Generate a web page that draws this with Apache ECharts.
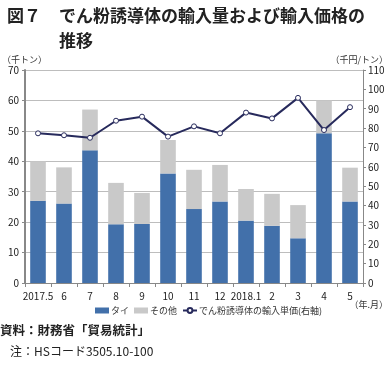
<!DOCTYPE html>
<html><head><meta charset="utf-8">
<script src="https://cdn.jsdelivr.net/npm/echarts@6/dist/echarts.min.js"></script>
<style>html,body{margin:0;padding:0;background:#fff}#c{width:388px;height:365px}</style>
</head><body><div id="c"></div>
<script>
const categories = ['2017.5','6','7','8','9','10','11','12','2018.1','2','3','4','5'];
const thai = [27.0,26.1,43.6,19.3,19.4,36.0,24.3,26.8,20.5,18.8,14.7,49.2,26.8];
const total = [40.0,38.0,57.0,32.9,29.6,47.0,37.2,38.8,30.9,29.3,25.6,60.0,37.9];
const others = total.map((t,i)=>+(t-thai[i]).toFixed(1));
const price = [77.3,76.3,75.0,83.8,85.9,75.6,80.9,77.3,88.0,85.0,95.6,79.0,90.8];
const leftTicks = {min:0,max:70,interval:10};
const rightTicks = {min:0,max:110,interval:10};

const FONT = '"Noto Sans CJK JP", sans-serif';
const chart = echarts.init(document.getElementById('c'), null, {renderer:'canvas'});
chart.setOption({
  animation:false,
  textStyle:{fontFamily:FONT},
  title:[
    {text:'図７', left:2, top:-2, textStyle:{fontFamily:FONT,fontSize:17,fontWeight:'bold',color:'#222',lineHeight:25}},
    {text:'でん粉誘導体の輸入量および輸入価格の\n推移', left:54, top:-2, textStyle:{fontFamily:FONT,fontSize:17,fontWeight:'bold',color:'#222',lineHeight:25}}
  ],
  graphic:[
    {type:'text', left:2, top:55, style:{text:'（千トン）', font:'9px '+FONT, fill:'#333'}},
    {type:'text', right:0, top:55, style:{text:'（千円/トン）', font:'9px '+FONT, fill:'#333'}},
    {type:'text', right:0, top:300, style:{text:'（年.月）', font:'9px '+FONT, fill:'#333'}},
    {type:'text', left:0, top:324, style:{text:'資料：財務省「貿易統計」', font:'bold 12.5px '+FONT, fill:'#222'}},
    {type:'text', left:10, top:345, style:{text:'注：HSコード3505.10-100', font:'12px '+FONT, fill:'#222'}}
  ],
  legend:{
    left:90, top:301, itemWidth:14, itemHeight:6, itemGap:5,
    textStyle:{fontFamily:FONT,fontSize:9,color:'#333',padding:[0,0,0,-3]},
    data:[{name:'タイ',icon:'rect'},{name:'その他',icon:'rect'},{name:'でん粉誘導体の輸入単価(右軸)'}]
  },
  grid:{left:25,right:25,top:70,bottom:82},
  xAxis:{
    type:'category', data:categories, boundaryGap:true,
    axisLine:{lineStyle:{color:'#888',width:1}},
    axisTick:{show:true,length:4,lineStyle:{color:'#888'}},
    axisLabel:{interval:0,fontSize:10,color:'#222',margin:8,fontFamily:FONT}
  },
  yAxis:[
    {type:'value', min:leftTicks.min, max:leftTicks.max, interval:leftTicks.interval,
     axisLine:{show:true,lineStyle:{color:'#888',width:2}},
     axisTick:{show:true,length:3,lineStyle:{color:'#888'}},
     splitLine:{lineStyle:{color:'#bdbdbd',width:1}},
     axisLabel:{fontSize:10,color:'#222',margin:6,fontFamily:FONT}},
    {type:'value', min:rightTicks.min, max:rightTicks.max, interval:rightTicks.interval,
     axisLine:{show:true,lineStyle:{color:'#888',width:1}},
     axisTick:{show:true,length:3,lineStyle:{color:'#888'}},
     splitLine:{show:false},
     axisLabel:{fontSize:10,color:'#222',margin:5,fontFamily:FONT}}
  ],
  series:[
    {name:'タイ', type:'bar', stack:'a', data:thai, barWidth:'60%', itemStyle:{color:'#4270aa'}},
    {name:'その他', type:'bar', stack:'a', data:others, barWidth:'60%', itemStyle:{color:'#c9c9c9'}},
    {name:'でん粉誘導体の輸入単価(右軸)', type:'line', yAxisIndex:1, data:price,
     symbol:'circle', symbolSize:5, lineStyle:{color:'#272a5c',width:2},
     itemStyle:{color:'#fff',borderColor:'#272a5c',borderWidth:1}}
  ]
});
</script></body></html>
